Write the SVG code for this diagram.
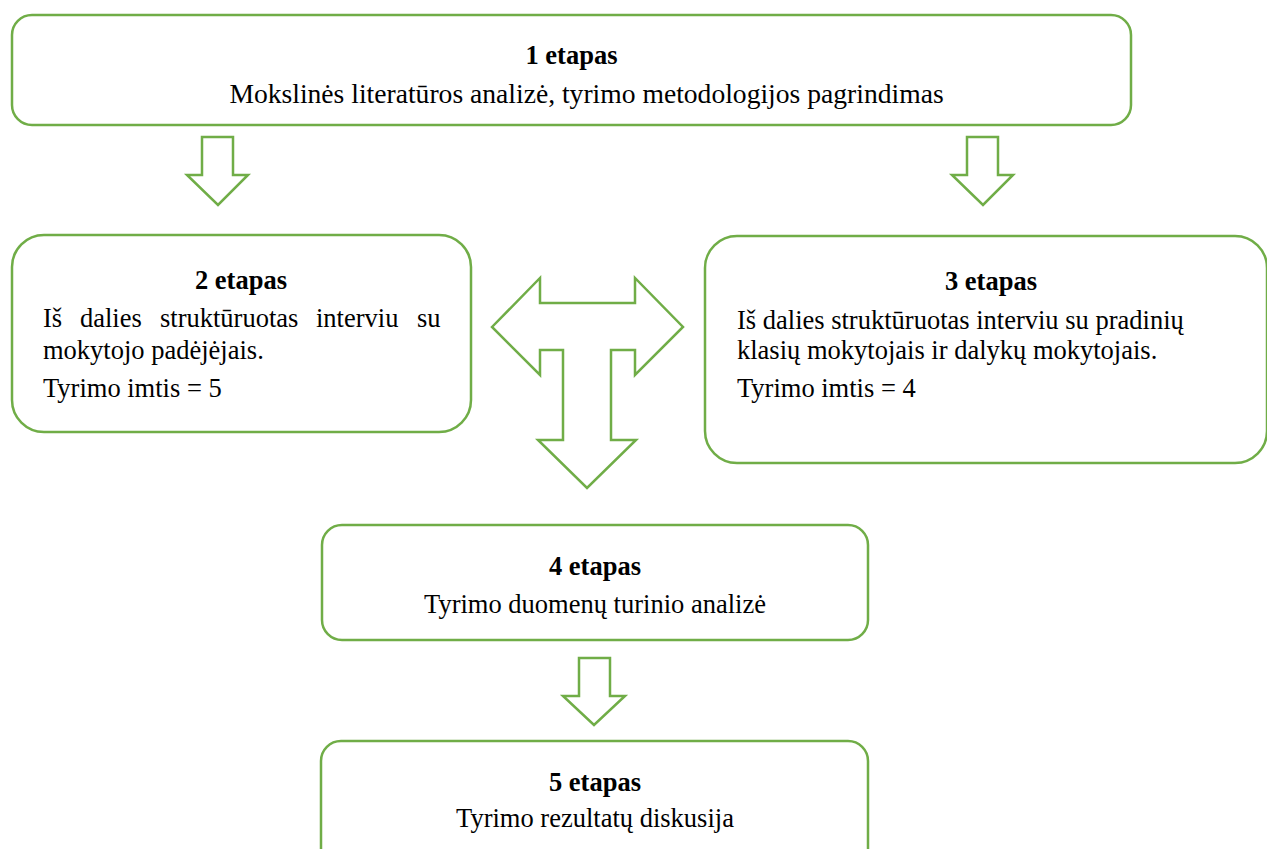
<svg xmlns="http://www.w3.org/2000/svg" width="1267" height="849" viewBox="0 0 1267 849">
<style>
.box{fill:#ffffff;stroke:#70ad47;stroke-width:2.5}
.arr{fill:#ffffff;stroke:#70ad47;stroke-width:2.5;stroke-linejoin:miter}
text{font-family:"Liberation Serif","Times New Roman",serif;font-size:26.5px;fill:#000000}
.t{font-weight:bold;text-anchor:middle}
.c{text-anchor:middle}
.big{font-size:27.6px}
</style>
<rect width="1267" height="849" fill="#ffffff"/>
<g id="connectors">
<polygon class="arr" points="202,137 233,137 233,175 248,175 218,205 187,175 202,175"/>
<polygon class="arr" points="967,137 998,137 998,175 1013,175 983,205 952,175 967,175"/>
<polygon class="arr" points="492,327 540,278 540,303 635,303 635,278 683,327 635,375 635,350 611,350 611,440 636,440 587,488 538,440 563,440 563,350 540,350 540,375"/>
<polygon class="arr" points="579,658 610,658 610,696 625,696 594,725 563,696 579,696"/>
</g>
<g id="stage1">
<rect class="box" x="12" y="15" width="1119" height="110" rx="20" ry="20"/>
<text class="t" x="571.5" y="64">1 etapas</text>
<text class="c big" x="586.5" y="103">Mokslinės literatūros analizė, tyrimo metodologijos pagrindimas</text>
</g>
<g id="stage2">
<rect class="box" x="12" y="235" width="459" height="197" rx="32" ry="32"/>
<text class="t" x="241" y="289">2 etapas</text>
<text y="327"><tspan x="43">Iš</tspan><tspan x="80">dalies</tspan><tspan x="160">struktūruotas</tspan><tspan x="316">interviu</tspan><tspan x="417">su</tspan></text>
<text x="43" y="359">mokytojo padėjėjais.</text>
<text x="43" y="397">Tyrimo imtis = 5</text>
</g>
<g id="stage3">
<rect class="box" x="705" y="236" width="562" height="227" rx="32" ry="32"/>
<text class="t" x="991" y="290">3 etapas</text>
<text x="737" y="329">Iš dalies struktūruotas interviu su pradinių</text>
<text x="737" y="359">klasių mokytojais ir dalykų mokytojais.</text>
<text x="737" y="397">Tyrimo imtis = 4</text>
</g>
<g id="stage4">
<rect class="box" x="322" y="525" width="546" height="115" rx="20" ry="20"/>
<text class="t" x="595" y="575">4 etapas</text>
<text class="c" x="595" y="613">Tyrimo duomenų turinio analizė</text>
</g>
<g id="stage5">
<rect class="box" x="321" y="741" width="547" height="130" rx="20" ry="20"/>
<text class="t" x="595" y="791">5 etapas</text>
<text class="c" x="595" y="827">Tyrimo rezultatų diskusija</text>
</g>
</svg>
